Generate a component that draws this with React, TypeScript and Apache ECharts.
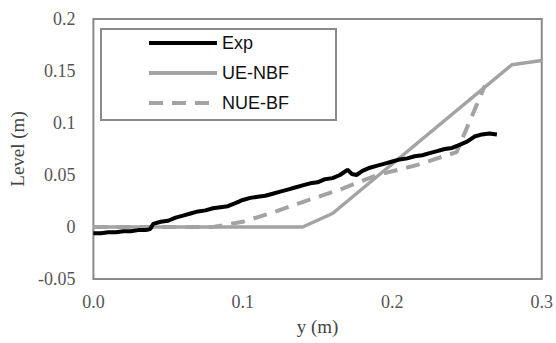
import React, { useEffect, useRef } from "react";
import * as echarts from "echarts";

const xTicks = ["0.0", "0.1", "0.2", "0.3"];
const yTicks = ["-0.05", "0", "0.05", "0.1", "0.15", "0.2"];

const expX = [0, 0.005, 0.01, 0.015, 0.02, 0.025, 0.03, 0.035, 0.038, 0.04, 0.045, 0.05, 0.055, 0.06, 0.065, 0.07, 0.075, 0.08, 0.085, 0.09, 0.095, 0.1, 0.105, 0.11, 0.115, 0.12, 0.125, 0.13, 0.135, 0.14, 0.145, 0.15, 0.155, 0.16, 0.165, 0.17, 0.173, 0.176, 0.18, 0.185, 0.19, 0.195, 0.2, 0.205, 0.21, 0.215, 0.22, 0.225, 0.23, 0.235, 0.24, 0.245, 0.25, 0.255, 0.26, 0.265, 0.27];
const expY = [-0.006, -0.006, -0.005, -0.005, -0.004, -0.004, -0.003, -0.003, -0.002, 0.003, 0.005, 0.006, 0.009, 0.011, 0.013, 0.015, 0.016, 0.018, 0.019, 0.02, 0.023, 0.026, 0.028, 0.029, 0.03, 0.032, 0.034, 0.036, 0.038, 0.04, 0.042, 0.043, 0.046, 0.047, 0.05, 0.055, 0.051, 0.05, 0.054, 0.057, 0.059, 0.061, 0.063, 0.065, 0.066, 0.068, 0.069, 0.071, 0.073, 0.075, 0.076, 0.079, 0.082, 0.087, 0.089, 0.09, 0.089];

const ueX = [0, 0.14, 0.16, 0.28, 0.3];
const ueY = [0, 0, 0.013, 0.156, 0.16];

const nueX = [0, 0.08, 0.1, 0.12, 0.14, 0.165, 0.19, 0.215, 0.243, 0.262];
const nueY = [0, 0, 0.005, 0.014, 0.024, 0.036, 0.05, 0.059, 0.072, 0.136];

const zip = (xs: number[], ys: number[]) => xs.map((x, i) => [x, ys[i]]);

export default function App() {
  const ref = useRef<HTMLDivElement>(null);
  useEffect(() => {
    if (!ref.current) return;
    const chart = echarts.init(ref.current, undefined, { renderer: "svg" });
    const serif = "Liberation Serif";
    chart.setOption({
      animation: false,
      backgroundColor: "#fff",
      grid: { left: 91, right: 12, top: 19, bottom: 64, show: true, borderColor: "#8a8a8a", borderWidth: 2, backgroundColor: "transparent" },
      legend: {
        orient: "vertical",
        left: 101,
        top: 29,
        padding: [5, 47, 8, 46],
        itemGap: 12,
        itemWidth: 68,
        itemHeight: 14,
        borderColor: "#8a8a8a",
        borderWidth: 2,
        itemStyle: { opacity: 0 },
        lineStyle: { width: 4 },
        textStyle: { fontFamily: "Liberation Sans", fontSize: 18, color: "#111" },
        data: ["Exp", "UE-NBF", "NUE-BF"],
      },
      xAxis: {
        type: "value",
        min: 0,
        max: 0.3,
        interval: 0.1,
        name: "y (m)",
        nameLocation: "middle",
        nameGap: 38,
        nameTextStyle: { fontFamily: serif, fontSize: 19, color: "#444" },
        axisLine: { show: false },
        axisTick: { show: false },
        splitLine: { show: false },
        axisLabel: { fontFamily: serif, fontSize: 18, color: "#555", margin: 14, formatter: (v: number) => xTicks[Math.round(v * 10)] },
      },
      yAxis: {
        type: "value",
        min: -0.05,
        max: 0.2,
        interval: 0.05,
        name: "Level (m)",
        nameLocation: "middle",
        nameGap: 58,
        nameTextStyle: { fontFamily: serif, fontSize: 19, color: "#444" },
        axisLine: { show: false },
        axisTick: { show: false },
        splitLine: { show: false },
        axisLabel: { fontFamily: serif, fontSize: 18, color: "#555", margin: 18, formatter: (v: number) => yTicks[Math.round((v + 0.05) / 0.05)] },
      },
      series: [
        { name: "Exp", type: "line", data: zip(expX, expY), symbol: "none", lineStyle: { color: "#000", width: 4 }, itemStyle: { color: "#000" }, z: 5 },
        { name: "UE-NBF", type: "line", data: zip(ueX, ueY), symbol: "none", lineStyle: { color: "#a3a3a3", width: 3.5 }, itemStyle: { color: "#a3a3a3" }, z: 3 },
        { name: "NUE-BF", type: "line", data: zip(nueX, nueY), symbol: "none", lineStyle: { color: "#a3a3a3", width: 4, type: [14, 9] }, itemStyle: { color: "#a3a3a3" }, z: 4 },
      ],
    });
    return () => chart.dispose();
  }, []);
  return <div ref={ref} style={{ width: 556, height: 343, position: "absolute", left: 0, top: 0 }} />;
}
